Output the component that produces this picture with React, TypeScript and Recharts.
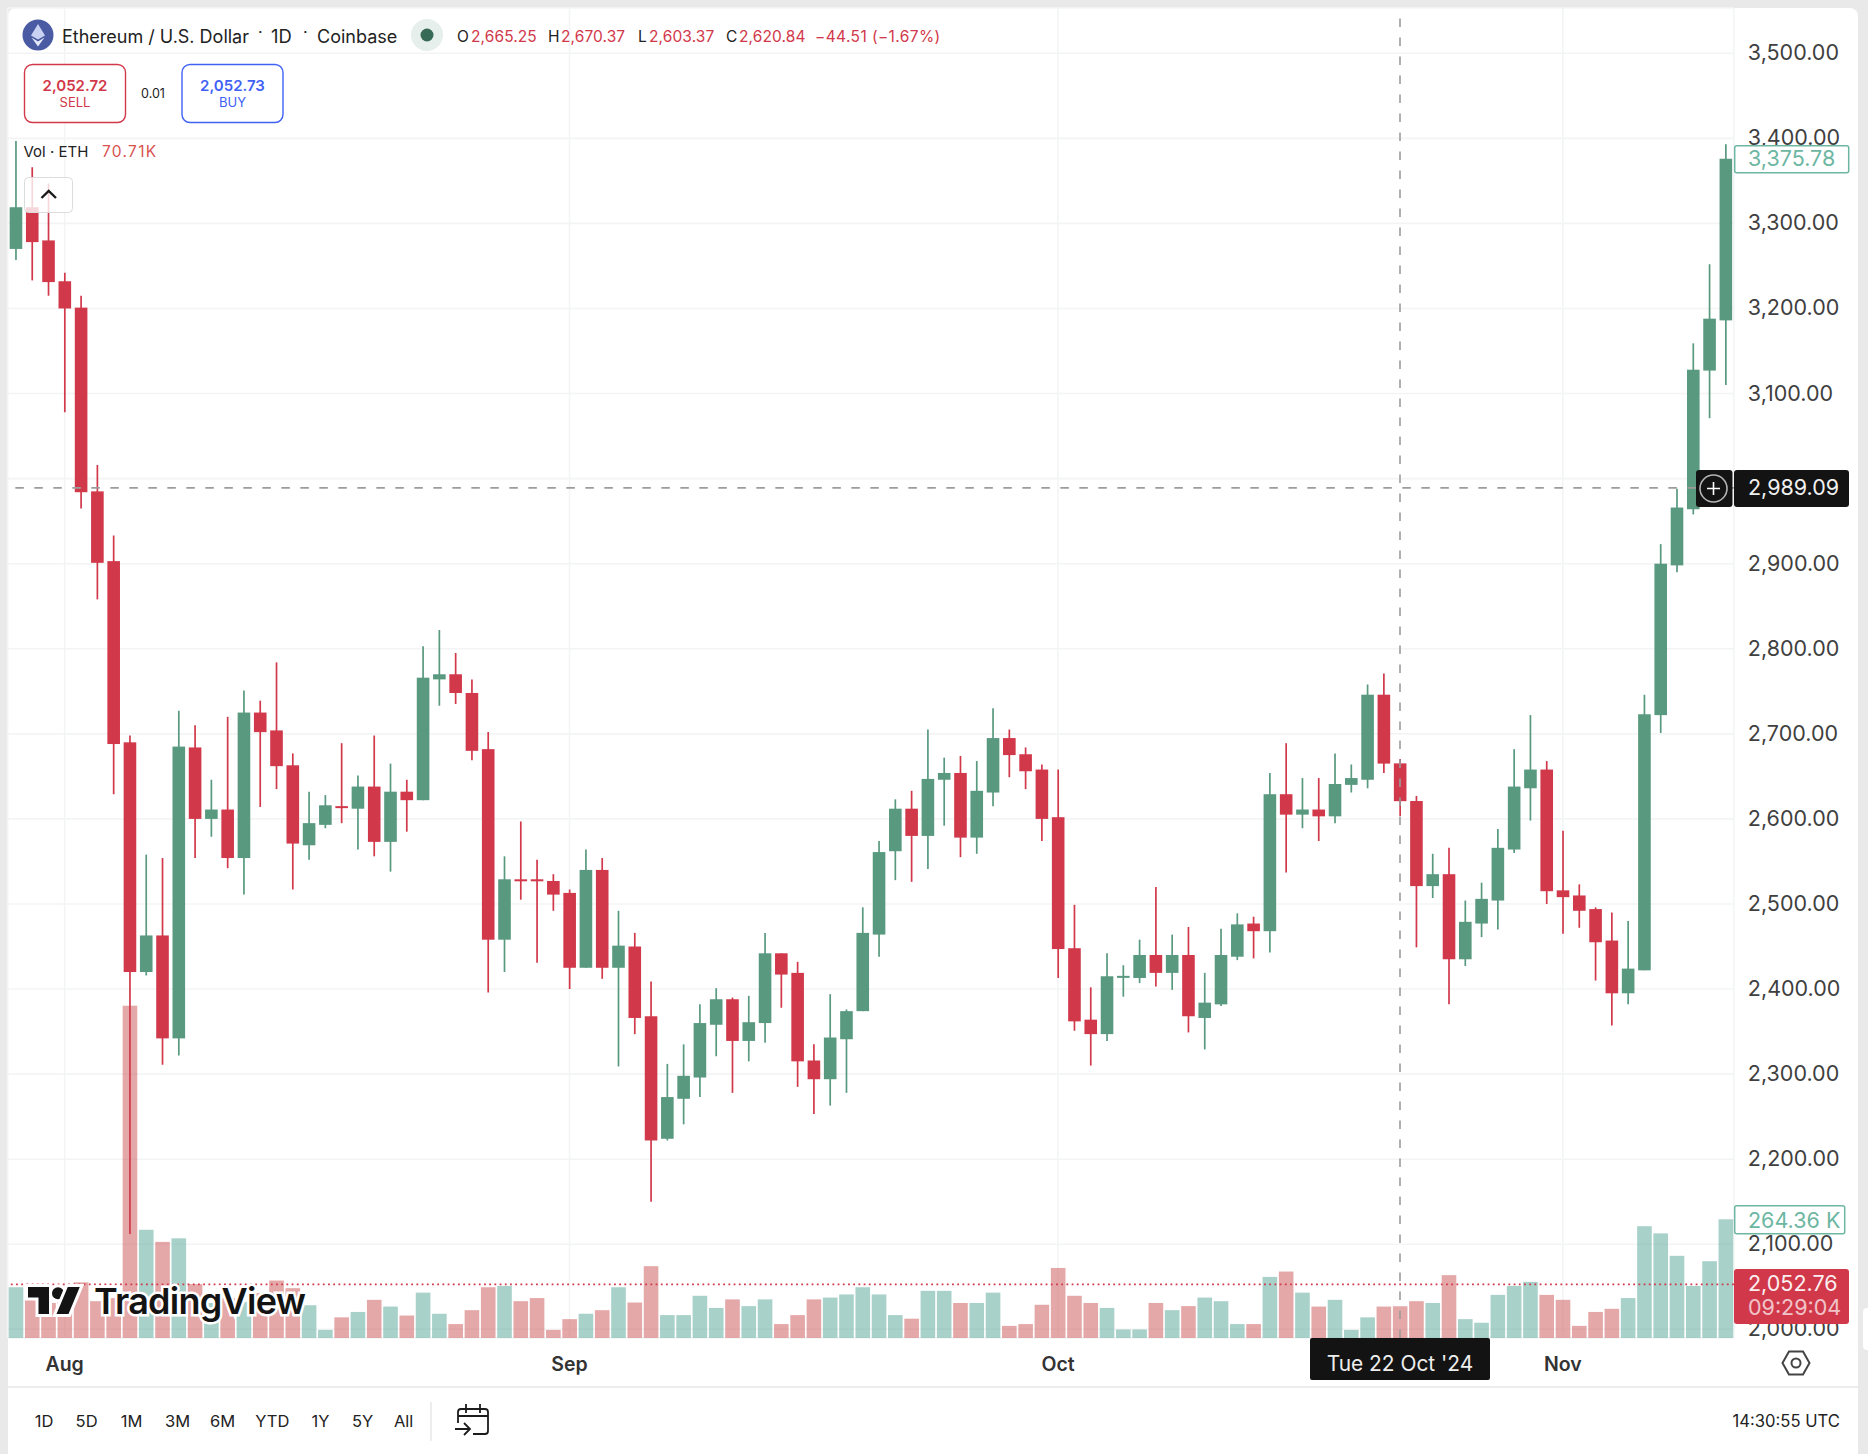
import React from 'react'
import { ComposedChart, Bar, XAxis, YAxis, CartesianGrid, ReferenceLine } from 'recharts'

const C = {
  up: '#58997f', down: '#d1384a', volUp: '#51a395', volDown: '#cc5252',
  grid: '#f3f4f5', axis: '#3f3f3f', cross: '#9c9c9c', black: '#131313', teal: '#6cb6a2',
}
const FONT = 'Inter, sans-serif'

const days = [
  '07-29', '07-30', '07-31',
  '08-01', '08-02', '08-03', '08-04', '08-05', '08-06', '08-07', '08-08', '08-09', '08-10', '08-11', '08-12', '08-13',
  '08-14', '08-15', '08-16', '08-17', '08-18', '08-19', '08-20', '08-21', '08-22', '08-23', '08-24', '08-25', '08-26',
  '08-27', '08-28', '08-29', '08-30', '08-31',
  '09-01', '09-02', '09-03', '09-04', '09-05', '09-06', '09-07', '09-08', '09-09', '09-10', '09-11', '09-12', '09-13',
  '09-14', '09-15', '09-16', '09-17', '09-18', '09-19', '09-20', '09-21', '09-22', '09-23', '09-24', '09-25', '09-26',
  '09-27', '09-28', '09-29', '09-30',
  '10-01', '10-02', '10-03', '10-04', '10-05', '10-06', '10-07', '10-08', '10-09', '10-10', '10-11', '10-12', '10-13',
  '10-14', '10-15', '10-16', '10-17', '10-18', '10-19', '10-20', '10-21', '10-22', '10-23', '10-24', '10-25', '10-26',
  '10-27', '10-28', '10-29', '10-30', '10-31',
  '11-01', '11-02', '11-03', '11-04', '11-05', '11-06', '11-07', '11-08', '11-09', '11-10', '11-11',
]

const opens = [
  3270, 3319, 3280, 3232, 3201, 2985, 2903, 2690, 2420, 2463, 2342, 2684, 2600, 2611, 2554, 2725, 2704, 2663, 2569, 2593,
  2615, 2612, 2638, 2573, 2632, 2622, 2764, 2770, 2748, 2682, 2458, 2529, 2529, 2527, 2513, 2425, 2540, 2425, 2450, 2368,
  2224, 2271, 2296, 2358, 2388, 2339, 2360, 2442, 2419, 2316, 2294, 2341, 2374, 2464, 2562, 2612, 2580, 2646, 2654, 2578,
  2631, 2695, 2676, 2658, 2602, 2448, 2364, 2347, 2414, 2413, 2440, 2419, 2440, 2366, 2382, 2438, 2477, 2468, 2629, 2605,
  2611, 2603, 2640, 2646, 2746, 2665.25, 2621, 2521, 2535, 2435, 2477, 2504, 2564, 2636, 2658, 2516, 2510, 2494, 2457, 2395,
  2422, 2722, 2898, 2964, 3127, 3186,
]
const highs = [
  3397, 3366, 3347, 3242, 3215, 3016, 2933, 2698, 2558, 2554, 2727, 2710, 2646, 2720, 2751, 2739, 2784, 2677, 2632, 2628,
  2689, 2651, 2698, 2665, 2646, 2803, 2822, 2795, 2764, 2702, 2556, 2597, 2552, 2535, 2517, 2564, 2554, 2492, 2466, 2409,
  2312, 2335, 2382, 2401, 2390, 2392, 2466, 2442, 2432, 2335, 2394, 2376, 2496, 2574, 2623, 2633, 2705, 2672, 2674, 2668,
  2730, 2705, 2684, 2664, 2658, 2499, 2402, 2442, 2428, 2458, 2520, 2464, 2473, 2419, 2471, 2489, 2485, 2654, 2689, 2648,
  2648, 2677, 2664, 2758, 2771, 2670.37, 2627, 2559, 2566, 2504, 2525, 2588, 2682, 2722, 2668, 2586, 2523, 2496, 2490, 2480,
  2746, 2923, 2988, 3159, 3252, 3393,
]
const lows = [
  3257, 3233, 3215, 3078, 2965, 2858, 2629, 2112, 2416, 2311, 2322, 2554, 2579, 2542, 2511, 2614, 2635, 2517, 2552, 2589,
  2595, 2564, 2556, 2538, 2585, 2622, 2733, 2735, 2669, 2396, 2420, 2505, 2431, 2492, 2400, 2425, 2412, 2309, 2347, 2150,
  2222, 2241, 2273, 2321, 2278, 2315, 2337, 2378, 2285, 2253, 2263, 2278, 2374, 2438, 2528, 2526, 2541, 2592, 2555, 2559,
  2615, 2649, 2635, 2574, 2413, 2351, 2310, 2339, 2391, 2407, 2403, 2399, 2349, 2329, 2380, 2434, 2436, 2443, 2537, 2589,
  2574, 2595, 2631, 2636, 2654, 2603.37, 2449, 2507, 2382, 2427, 2461, 2470, 2560, 2598, 2500, 2465, 2472, 2410, 2357, 2382,
  2422, 2701, 2890, 2958, 3071, 3110,
]
const closes = [
  3319, 3278, 3231, 3200, 2984, 2901, 2688, 2420, 2463, 2342, 2685, 2600, 2611, 2554, 2725, 2702, 2662, 2571, 2595, 2616,
  2613, 2638, 2573, 2632, 2622, 2766, 2770, 2748, 2680, 2458, 2529, 2528, 2528, 2511, 2425, 2540, 2425, 2451, 2366, 2222,
  2273, 2298, 2360, 2388, 2339, 2361, 2442, 2417, 2315, 2294, 2343, 2374, 2466, 2561, 2612, 2580, 2647, 2654, 2578, 2633,
  2695, 2675, 2656, 2600, 2447, 2362, 2347, 2415, 2415.5, 2440, 2419, 2440, 2368, 2384, 2440, 2476, 2468, 2629, 2605, 2611,
  2603, 2641, 2648, 2746, 2665, 2620.84, 2521, 2535, 2435, 2479, 2506, 2566, 2638, 2658, 2515, 2508, 2492, 2455, 2395, 2424,
  2723, 2900, 2966, 3128, 3188, 3376,
]
// volume in thousands of ETH
const volumes = [
  113, 88, 78, 89, 124, 82, 89, 740, 241, 214, 222, 120, 78, 89, 80, 100, 128, 111, 73, 18,
  46, 58, 85, 70, 50, 101, 54, 31, 62, 113, 116, 82, 89, 18, 42, 54, 62, 113, 79, 160,
  51, 51, 94, 67, 86, 71, 86, 31, 51, 86, 90, 97, 113, 97, 51, 43, 105, 105, 78, 78,
  101, 27, 31, 74, 156, 94, 78, 67, 19, 19, 78, 62, 71, 90, 82, 31, 31, 136, 148, 101,
  70, 85, 18, 46, 70, 70.71, 82, 78, 140, 42, 34, 96, 116, 125, 96, 85, 27, 58, 65, 89,
  249, 233, 183, 116, 171, 264.36,
]

const priceTicks = [2000, 2100, 2200, 2300, 2400, 2500, 2600, 2700, 2800, 2900, 3000, 3100, 3200, 3300, 3400, 3500]
const monthTicks = ['08-01', '09-01', '10-01', '11-01']
const monthNames: Record<string, string> = { '08-01': 'Aug', '09-01': 'Sep', '10-01': 'Oct', '11-01': 'Nov' }
const ranges = [['1D', 44], ['5D', 86.6], ['1M', 131.6], ['3M', 177.5], ['6M', 222.5], ['YTD', 272.3], ['1Y', 320.5], ['5Y', 362.5], ['All', 403.6]] as const
const ohlc = [['O', 457, '2,665.25', 471], ['H', 548, '2,670.37', 561], ['L', 638, '2,603.37', 649], ['C', 726, '2,620.84', 739]] as const

const rows = days.map((day, i) => ({
  day, open: opens[i], high: highs[i], low: lows[i], close: closes[i], volume: volumes[i],
}))

function Candle(props: any) {
  const { x, y, width, height, payload } = props
  const up = payload.close >= payload.open
  const color = up ? C.up : C.down
  const h = Math.abs(height)
  const perUnit = h / (payload.high - payload.low)
  const top = y + (payload.high - Math.max(payload.open, payload.close)) * perUnit
  const bodyH = Math.max(Math.abs(payload.close - payload.open) * perUnit, 2)
  return (
    <g>
      <line x1={x + width / 2} x2={x + width / 2} y1={y} y2={y + h} stroke={color} strokeWidth={1.7} />
      <rect x={x} y={top} width={width} height={bodyH} fill={color} />
    </g>
  )
}

function VolumeBar(props: any) {
  const { x, y, width, height, payload } = props
  const up = payload.close >= payload.open
  return <rect x={x} y={y} width={width} height={height} fill={up ? C.volUp : C.volDown} fillOpacity={0.5} />
}

function MonthTick(props: any) {
  const { x, payload } = props
  return (
    <text x={x} y={1364} fill="#333" fontSize={19.5} fontWeight={600} textAnchor="middle" dominantBaseline="central" fontFamily={FONT}>
      {monthNames[payload.value]}
    </text>
  )
}

function PriceTick(props: any) {
  const { x, y, payload } = props
  return (
    <text x={x - 1} y={y - 1} fill={C.axis} fontSize={21.5} textAnchor="start" dominantBaseline="central" fontFamily={FONT}>
      {payload.value.toLocaleString('en-US', { minimumFractionDigits: 2 })}
    </text>
  )
}

function T({ x, y, c = '#222', s = 16, w = 400, a = 'start', o = 1, ls = 0, children }: any) {
  return (
    <text x={x} y={y} fill={c} fontSize={s} fontWeight={w} textAnchor={a} opacity={o} letterSpacing={ls} dominantBaseline="central" fontFamily={FONT}>
      {children}
    </text>
  )
}

function Overlay() {
  return (
    <svg width={1868} height={1454} style={{ position: 'absolute', left: 0, top: 0 }}>
      {/* symbol header */}
      <circle cx={38} cy={35} r={15.5} fill="#4a5aa3" />
      <path d="M38 24 L45 35.5 L38 39.5 L31 35.5 Z" fill="#c9d2f2" />
      <path d="M38 41.5 L44.5 37.5 L38 46.5 L31.5 37.5 Z" fill="#e6eafb" />
      <T x={62} y={36} s={18}>Ethereum / U.S. Dollar</T>
      <T x={258} y={32} s={16}>·</T>
      <T x={271} y={36} s={18.4}>1D</T>
      <T x={303} y={32} s={16}>·</T>
      <T x={317} y={36} s={18}>Coinbase</T>
      <circle cx={427} cy={35} r={16} fill="#e6efec" />
      <circle cx={427} cy={35} r={6.5} fill="#386a58" />
      {ohlc.map(([k, kx, v, vx]) => (
        <g key={k}>
          <T x={kx} y={36} s={15.5}>{k}</T>
          <T x={vx} y={36} s={15.5} c={C.down} ls={0.1}>{v}</T>
        </g>
      ))}
      <T x={815} y={36} s={15.5} c={C.down} ls={0.4}>−44.51 (−1.67%)</T>

      {/* sell / buy */}
      <rect x={24.5} y={64.5} width={101} height={58} rx={8} fill="#fff" stroke={C.down} strokeWidth={1.4} />
      <T x={75} y={85} s={15} w={600} a="middle" c={C.down}>2,052.72</T>
      <T x={75} y={101.5} s={13} a="middle" c={C.down}>SELL</T>
      <T x={153} y={93} s={12.5} a="middle">0.01</T>
      <rect x={182} y={64.5} width={101} height={58} rx={8} fill="#fff" stroke="#3f62f5" strokeWidth={1.4} />
      <T x={232.5} y={85} s={15} w={600} a="middle" c="#3f62f5">2,052.73</T>
      <T x={232.5} y={101.5} s={13} a="middle" c="#3f62f5">BUY</T>

      {/* volume legend and collapse button */}
      <T x={23.5} y={151.5} s={15}>Vol · ETH</T>
      <T x={102} y={151.5} s={15.5} c="#d9534f" ls={1.3}>70.71K</T>
      <rect x={24.5} y={177.5} width={48} height={35} rx={4} fill="#fff" fillOpacity={0.8} stroke="#dcdcdc" />
      <path d="M41.5 198 L48.7 191 L56 198" fill="none" stroke="#1a1a1a" strokeWidth={2.4} />

      {/* price scale labels */}
      <rect x={1734.7} y={145.7} width={114} height={27} rx={2} fill="#fff" stroke={C.teal} strokeWidth={1.5} />
      <T x={1748} y={158} s={21.5} c={C.teal}>3,375.78</T>
      <rect x={1696} y={470} width={36.5} height={37} rx={3} fill={C.black} />
      <circle cx={1713.5} cy={488.5} r={13.5} fill="none" stroke="#b5b5b5" strokeWidth={1.6} />
      <path d="M1707 488.5 H1720 M1713.5 482 V495" stroke="#fff" strokeWidth={1.6} />
      <rect x={1734} y={470} width={115} height={37} rx={3} fill={C.black} />
      <T x={1748} y={487} s={21.5} c="#f0f0f0">2,989.09</T>
      <rect x={1734.7} y={1205.7} width={110} height={28} rx={2} fill="#fff" stroke={C.teal} strokeWidth={1.5} />
      <T x={1748} y={1220} s={21.5} c={C.teal}>264.36 K</T>
      <rect x={1734} y={1269} width={115} height={55} rx={3} fill={C.down} />
      <T x={1748} y={1283} s={21.5} c="#fff" o={0.92}>2,052.76</T>
      <T x={1748} y={1307} s={21.5} c="#fff" o={0.7}>09:29:04</T>

      {/* watermark */}
      <g transform="translate(28 1287) scale(1.5)" stroke="#fff" strokeWidth={4} paintOrder="stroke" fill="#131313">
        <path d="M14 18H7V7H0V0h14v18z" />
        <circle cx={20} cy={4.2} r={4} />
        <path d="M27 18h-8L26.5 0h8L27 18z" />
      </g>
      <text x={94} y={1301} fontSize={36} fontWeight={600} fill="#131313" stroke="#fff" strokeWidth={5} paintOrder="stroke" dominantBaseline="central" fontFamily={FONT} letterSpacing={-0.75}>TradingView</text>

      {/* date scale */}
      <rect x={1310} y={1338} width={180} height={42} rx={2} fill={C.black} />
      <T x={1400} y={1363} s={20.9} a="middle" c="#eeeeee">Tue 22 Oct '24</T>
      <path d="M1782.5 1363 L1789 1351.5 H1803 L1809.5 1363 L1803 1374.5 H1789 Z" fill="none" stroke="#444" strokeWidth={2} />
      <circle cx={1796} cy={1363} r={4.5} fill="none" stroke="#444" strokeWidth={2} />

      {/* bottom toolbar */}
      <line x1={8} x2={1858} y1={1387} y2={1387} stroke="#e6e6e6" strokeWidth={1.5} />
      {ranges.map(([label, x]) => (
        <T key={label} x={x} y={1421} s={16.5} a="middle">{label}</T>
      ))}
      <line x1={431} x2={431} y1={1402} y2={1441} stroke="#e3e3e3" strokeWidth={1.3} />
      <g fill="none" stroke="#1c1c1c" strokeWidth={1.8}>
        <path d="M458 1423 V1412 a3 3 0 0 1 3 -3 H485 a3 3 0 0 1 3 3 V1431 a3 3 0 0 1 -3 3 H473" />
        <path d="M458 1416 H488 M466 1404 V1413 M480 1404 V1413" />
        <path d="M455 1429 H470 M464 1423 L470 1429 L464 1435" />
      </g>
      <T x={1732.6} y={1421} s={16.6}>14:30:55 UTC</T>

      {/* side handle */}
      <rect x={1863} y={1308} width={10} height={42} rx={4} fill="#fff" />
    </svg>
  )
}

export default function App() {
  return (
    <div style={{ position: 'absolute', left: 0, top: 0, width: 1868, height: 1454, background: '#e9e9e9', overflow: 'hidden' }}>
      <div style={{ position: 'absolute', left: 8, top: 8, width: 1850, height: 1446, background: '#fff', borderRadius: '8px 8px 0 0' }} />
      <div style={{ position: 'absolute', left: 0, top: 0 }}>
        <ComposedChart width={1868} height={1454} data={rows} margin={{ top: 8, right: 0, bottom: 70, left: 7.66 }}>
          <CartesianGrid xAxisId="vol" yAxisId="price" stroke={C.grid} strokeWidth={1.6} />
          <XAxis xAxisId="vol" dataKey="day" height={46} ticks={monthTicks} interval={0}
            axisLine={false} tickLine={false} tickSize={0} tick={MonthTick} />
          <XAxis xAxisId="candle" dataKey="day" hide />
          <YAxis yAxisId="price" orientation="right" width={134.16} domain={[1989.8, 3553.2]} ticks={priceTicks} interval={0}
            axisLine={false} tickLine={false} tickSize={0} tickMargin={15} tick={PriceTick} />
          <YAxis yAxisId="volume" hide domain={[0, 2962]} />
          <Bar xAxisId="vol" yAxisId="volume" dataKey="volume" barSize={14.6} shape={VolumeBar} isAnimationActive={false} />
          <Bar xAxisId="candle" yAxisId="price" dataKey={(d: any) => [d.low, d.high]} barSize={12.6} shape={Candle} isAnimationActive={false} />
          <ReferenceLine xAxisId="vol" yAxisId="price" y={2052.76} stroke={C.down} strokeWidth={1.8} strokeDasharray="1.8 3.4" />
          <ReferenceLine xAxisId="vol" yAxisId="price" y={2989.09} stroke={C.cross} strokeWidth={1.6} strokeDasharray="8.5 10.5" />
          <ReferenceLine xAxisId="vol" yAxisId="price" x="10-22" stroke={C.cross} strokeWidth={1.6} strokeDasharray="8.5 10.5" />
        </ComposedChart>
      </div>
      <Overlay />
    </div>
  )
}
